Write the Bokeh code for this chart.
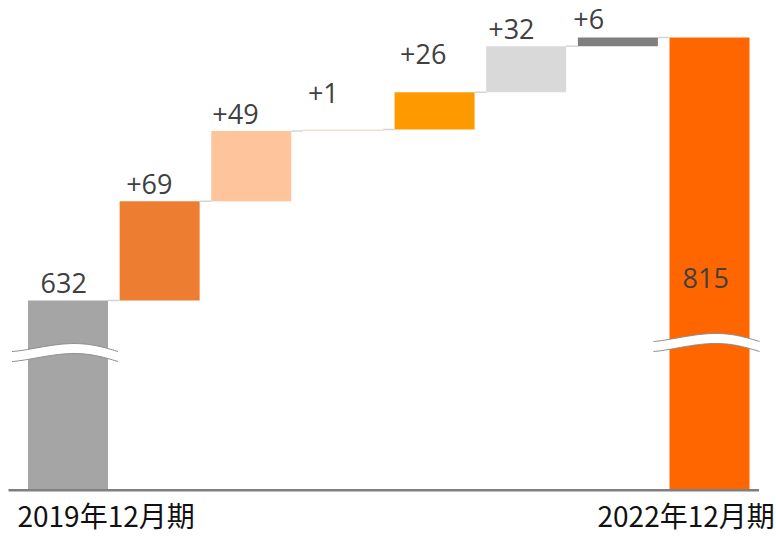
import numpy as np
from bokeh.plotting import figure
from bokeh.models import ColumnDataSource, Range1d
from bokeh.core.properties import value
from bokeh.embed import file_html
from bokeh.resources import INLINE

# ---------------- data ----------------
periods = ["2019年12月期", "2022年12月期"]
start_value = 632
end_value = 815
deltas = [69, 49, 1, 26, 32, 6]
delta_labels = ["+69", "+49", "+1", "+26", "+32", "+6"]
axis_floor = 500  # value at the (broken) baseline

# ---------------- style ----------------
bar_colors = ["#a5a5a5", "#ed7d31", "#fec49c", "#fcdcc6",
              "#ff9900", "#d9d9d9", "#7f7f7f", "#ff6600"]
label_x_off = [-27.5, -33.5, -39, -35, -34.5, -38, -44.5, -27]
label_y_off = [-18, -17, -17, -37, -38, -17, -19, 240]

W, H = 776, 537
x0, x1 = -0.7366, 7.731
y0, y1 = 467.05, 840.8
px_x = (x1 - x0) / W     # data units per pixel
px_y = (y1 - y0) / H

# ---------------- derived bars ----------------
n = len(deltas) + 2
xs = list(range(n))
bottoms, tops = [axis_floor], [start_value]
run = start_value
for d in deltas:
    bottoms.append(run)
    run += d
    tops.append(run)
bottoms.append(axis_floor)
tops.append(end_value)
bar_width = 80 * px_x

p = figure(width=W, height=H, output_backend="svg", toolbar_location=None,
           x_range=Range1d(x0, x1), y_range=Range1d(y0, y1),
           x_axis_location=None, y_axis_location=None, min_border=0)
p.outline_line_color = None
p.grid.visible = False
p.background_fill_color = "white"
p.border_fill_color = "white"

src = ColumnDataSource(dict(x=xs, bottom=bottoms, top=tops, color=bar_colors))
p.vbar(x="x", width=bar_width, bottom="bottom", top="top", fill_color="color",
       line_color=None, source=src)

# connectors
cx, cy = [], []
for i in range(n - 1):
    lvl = tops[i]
    cx.append([xs[i] + bar_width / 2, xs[i + 1] - bar_width / 2])
    cy.append([lvl, lvl])
p.multi_line(cx, cy, line_color="#d4d4d4", line_width=1.5)

# baseline
p.line([x0 + 8 * px_x, xs[-1] + 0.54], [axis_floor, axis_floor],
       line_color="#7f7f7f", line_width=2.5)

# axis break marks
def break_mark(xc, vmid):
    t = np.linspace(0, 1, 60)
    left = xc - bar_width / 2 - 16 * px_x
    right = xc + bar_width / 2 + 10 * px_x
    bx = left + (right - left) * t
    mid = vmid + 8 * px_y * np.sin(np.pi * t ** 1.3)
    up = mid + 5 * px_y
    lo = mid - 5 * px_y
    p.patch(np.concatenate([bx, bx[::-1]]), np.concatenate([up, lo[::-1]]),
            fill_color="white", line_color=None)
    p.multi_line([list(bx), list(bx)], [list(up), list(lo)],
                 line_color="#8c8c8c", line_width=1)

break_mark(xs[0], 593)
break_mark(xs[-1], 600)

# value labels
labels = [str(start_value)] + delta_labels + [str(end_value)]
lsrc = ColumnDataSource(dict(x=xs, y=tops, text=labels, xo=label_x_off, yo=label_y_off))
p.text(x="x", y="y", text="text", x_offset="xo", y_offset="yo", source=lsrc,
       text_font=value("Open Sans"), text_font_size="27px", text_color="#404040",
       text_align="left", text_baseline="alphabetic")

# period labels
psrc = ColumnDataSource(dict(x=[xs[0], xs[-1]], y=[axis_floor, axis_floor],
                             text=periods, xo=[-50.5, -112]))
p.text(x="x", y="y", text="text", x_offset="xo", y_offset=25, source=psrc,
       text_font=value("Noto Sans CJK JP"), text_font_size="28px", text_color="#111111",
       text_align="left", text_baseline="alphabetic")

open("out.html", "w").write(file_html(p, INLINE))
